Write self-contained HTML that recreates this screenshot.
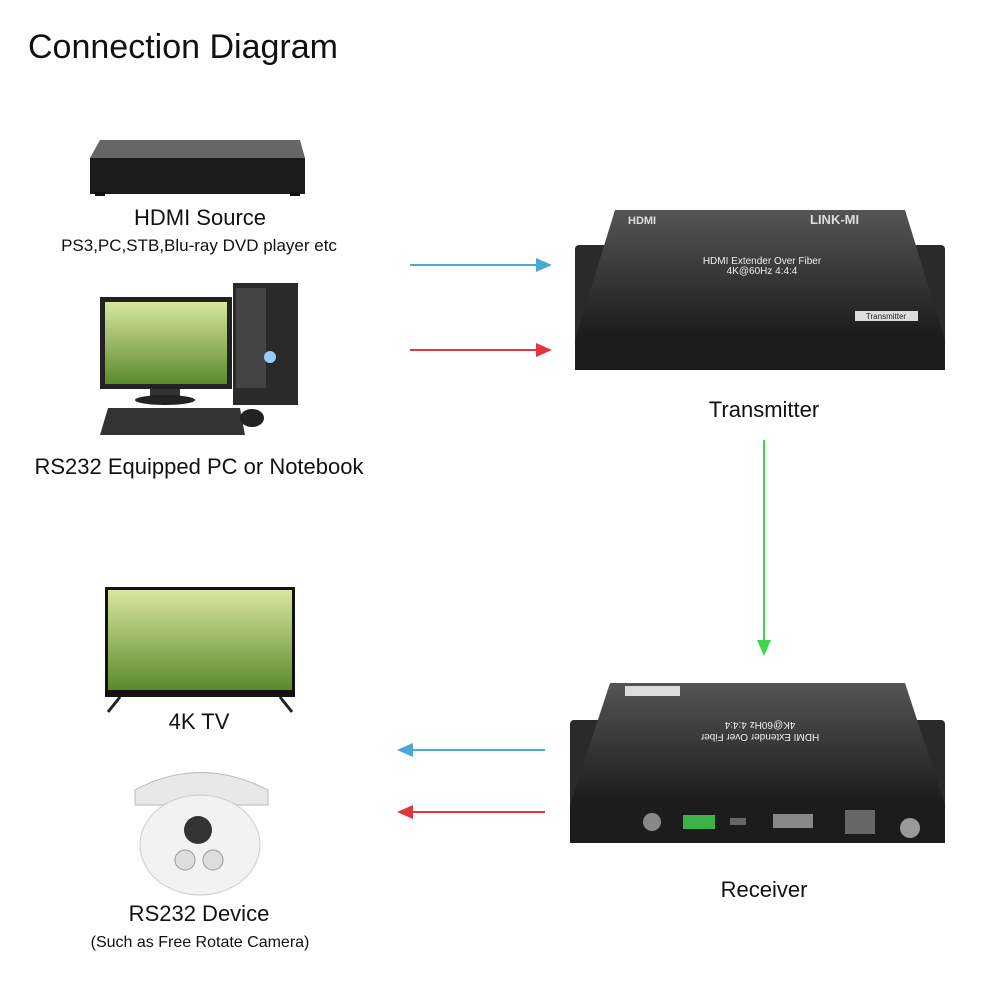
<!DOCTYPE html>
<html><head><meta charset="utf-8"><style>
body{margin:0;background:#fff;width:1000px;height:1000px;position:relative;overflow:hidden;font-family:"Liberation Sans","DejaVu Sans",sans-serif;color:#111}
.t{position:absolute;white-space:nowrap;transform:translateX(-50%)}
</style></head><body>
<div style="position:absolute;left:28px;top:28px;font-size:34px;">Connection Diagram</div>
<div class="t" style="left:200px;top:205px;font-size:22px">HDMI Source</div>
<div class="t" style="left:199px;top:236px;font-size:17px">PS3,PC,STB,Blu-ray DVD player etc</div>
<div class="t" style="left:199px;top:454px;font-size:22px">RS232 Equipped PC or Notebook</div>
<div class="t" style="left:764px;top:397px;font-size:22px">Transmitter</div>
<div class="t" style="left:199px;top:709px;font-size:22px">4K TV</div>
<div class="t" style="left:199px;top:901px;font-size:22px">RS232 Device</div>
<div class="t" style="left:200px;top:934px;font-size:16px">(Such as Free Rotate Camera)</div>
<div class="t" style="left:764px;top:877px;font-size:22px">Receiver</div>
<svg width="1000" height="1000" style="position:absolute;left:0;top:0">
<defs>
<linearGradient id="dk" x1="0" y1="0" x2="0" y2="1"><stop offset="0" stop-color="#555"/><stop offset="1" stop-color="#1a1a1a"/></linearGradient>
<linearGradient id="sky" x1="0" y1="0" x2="0" y2="1"><stop offset="0" stop-color="#d9e6a0"/><stop offset="1" stop-color="#5a8a2a"/></linearGradient>
</defs>
<!-- HDMI source box -->
<polygon points="100,140 300,140 305,158 90,158" fill="#666"/>
<rect x="90" y="158" width="215" height="36" fill="#1b1b1b"/>
<rect x="95" y="192" width="10" height="4" fill="#111"/><rect x="290" y="192" width="10" height="4" fill="#111"/>
<!-- PC monitor -->
<rect x="100" y="297" width="132" height="92" fill="#222"/>
<rect x="105" y="302" width="122" height="82" fill="url(#sky)"/>
<rect x="150" y="389" width="30" height="8" fill="#333"/><ellipse cx="165" cy="400" rx="30" ry="5" fill="#222"/>
<rect x="233" y="283" width="65" height="122" fill="#2a2a2a"/><rect x="236" y="288" width="30" height="100" fill="#444"/>
<circle cx="270" cy="357" r="6" fill="#9cf"/>
<polygon points="108,408 240,408 245,435 100,435" fill="#333"/>
<ellipse cx="252" cy="418" rx="12" ry="9" fill="#222"/>
<!-- arrows right -->
<line x1="410" y1="265" x2="540" y2="265" stroke="#4aa8d8" stroke-width="2"/><polygon points="552,265 536,258 536,272" fill="#4aa8d8"/>
<line x1="410" y1="350" x2="540" y2="350" stroke="#e0363c" stroke-width="2"/><polygon points="552,350 536,343 536,357" fill="#e0363c"/>
<!-- transmitter -->
<rect x="575" y="245" width="370" height="120" rx="4" fill="#2a2a2a"/>
<polygon points="615,210 905,210 945,340 575,340" fill="url(#dk)"/>
<rect x="575" y="338" width="370" height="32" fill="#1c1c1c"/>
<text x="628" y="224" fill="#ddd" font-size="11" font-weight="bold">HDMI</text>
<text x="810" y="224" fill="#ddd" font-size="13" font-weight="bold">LINK-MI</text>
<text x="762" y="264" fill="#eee" font-size="10" text-anchor="middle">HDMI Extender Over Fiber</text>
<text x="762" y="274" fill="#eee" font-size="10" text-anchor="middle">4K@60Hz 4:4:4</text>
<rect x="855" y="311" width="63" height="10" fill="#ddd"/><text x="886" y="319" font-size="8" text-anchor="middle" fill="#222">Transmitter</text>
<!-- green arrow -->
<line x1="764" y1="440" x2="764" y2="642" stroke="#3ed84a" stroke-width="2"/><polygon points="764,656 757,640 771,640" fill="#3ed84a"/>
<!-- TV -->
<rect x="105" y="587" width="190" height="110" fill="#111"/>
<rect x="108" y="590" width="184" height="100" fill="url(#sky)"/>
<line x1="120" y1="697" x2="108" y2="712" stroke="#222" stroke-width="3"/><line x1="280" y1="697" x2="292" y2="712" stroke="#222" stroke-width="3"/>
<!-- camera -->
<path d="M135,790 Q200,755 268,790 L268,805 L135,805Z" fill="#e8e8e8" stroke="#bbb"/>
<ellipse cx="200" cy="845" rx="60" ry="50" fill="#f2f2f2" stroke="#ccc"/>
<circle cx="198" cy="830" r="14" fill="#333"/>
<circle cx="185" cy="860" r="10" fill="#ddd" stroke="#999"/><circle cx="213" cy="860" r="10" fill="#ddd" stroke="#999"/>
<!-- arrows left -->
<line x1="545" y1="750" x2="410" y2="750" stroke="#4aa8d8" stroke-width="2"/><polygon points="397,750 413,743 413,757" fill="#4aa8d8"/>
<line x1="545" y1="812" x2="410" y2="812" stroke="#e0363c" stroke-width="2"/><polygon points="397,812 413,805 413,819" fill="#e0363c"/>
<!-- receiver -->
<rect x="570" y="720" width="375" height="120" rx="4" fill="#2a2a2a"/>
<polygon points="610,683 905,683 945,805 570,805" fill="url(#dk)"/>
<rect x="570" y="803" width="375" height="40" fill="#1c1c1c"/>
<rect x="625" y="686" width="55" height="10" fill="#ddd"/>
<text x="760" y="742" fill="#eee" font-size="10" text-anchor="middle" transform="rotate(180 760 738)">HDMI Extender Over Fiber</text>
<text x="760" y="730" fill="#eee" font-size="10" text-anchor="middle" transform="rotate(180 760 726)">4K@60Hz 4:4:4</text>
<circle cx="652" cy="822" r="9" fill="#888"/>
<rect x="683" y="815" width="32" height="14" fill="#3bb34a"/>
<rect x="730" y="818" width="16" height="7" fill="#666"/>
<rect x="773" y="814" width="40" height="14" fill="#888"/>
<rect x="845" y="810" width="30" height="24" fill="#666"/>
<circle cx="910" cy="828" r="10" fill="#999"/>
</svg>
</body></html>
